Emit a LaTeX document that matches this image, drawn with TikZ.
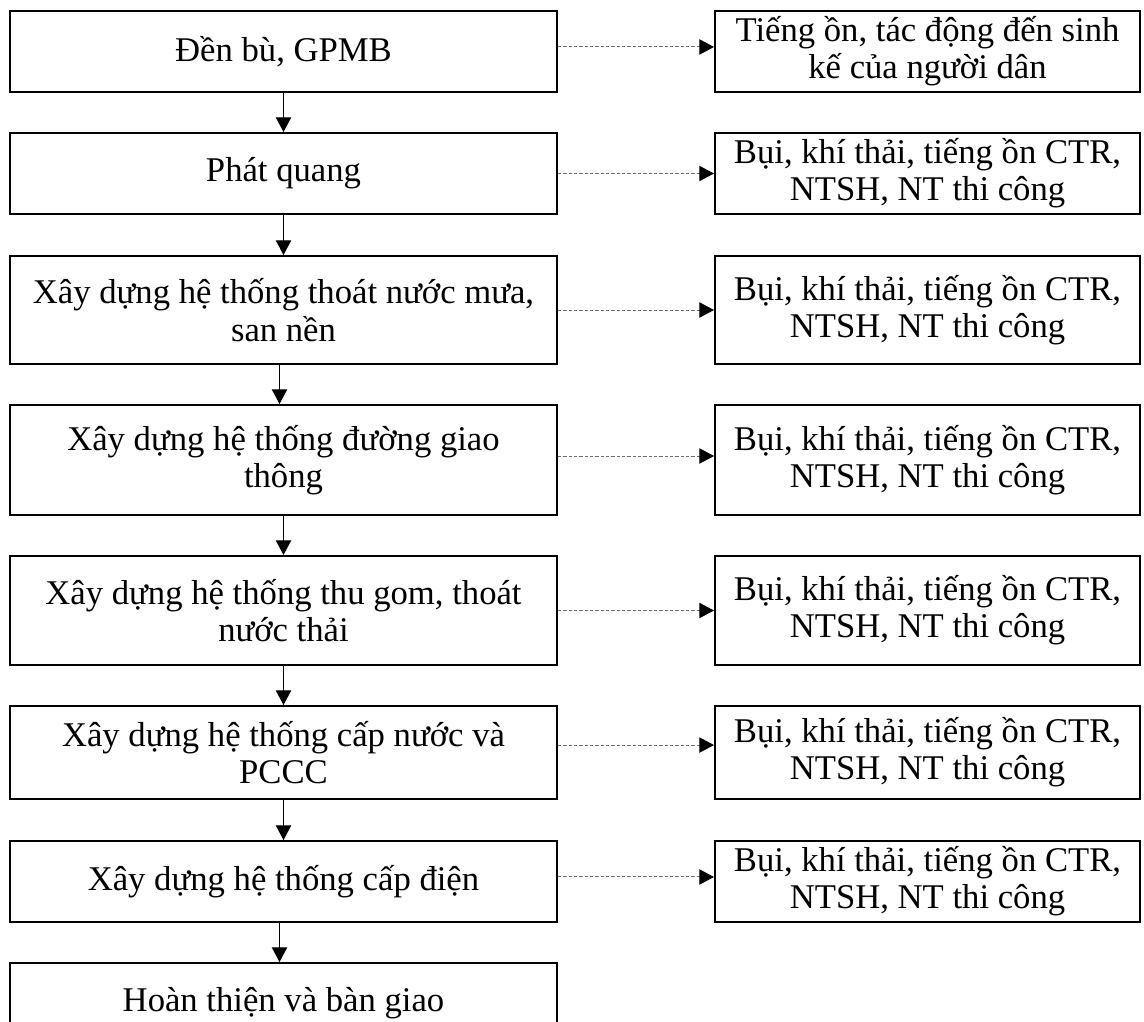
\documentclass[tikz,border=0pt]{standalone}
\usepackage{fontspec}
\setmainfont{Liberation Serif}
\usetikzlibrary{arrows.meta}

% one drawing unit = one pixel = 0.75pt
\tikzset{
  stagebox/.style={draw=black, line width=1.5pt, inner sep=0pt, align=center,
    minimum width=410.25pt, font=\fontsize{26}{28}\selectfont},
  impactbox/.style={draw=black, line width=1.5pt, inner sep=0pt, align=center,
    minimum width=318.75pt, font=\fontsize{26}{28}\selectfont},
  h81/.style={minimum height=60.75pt},
  h108/.style={minimum height=81pt},
  h110/.style={minimum height=82.5pt},
  h109/.style={minimum height=81.75pt},
  h93/.style={minimum height=69.75pt},
  flowarrow/.style={line width=0.75pt, -{Triangle[length=11pt,width=11.5pt]}},
  impactarrow/.style={draw=gray!85!black, line width=0.75pt,
    dash pattern=on 2.4pt off 1.6pt,
    -{Triangle[length=11pt,width=11.5pt,fill=black,color=black]}}
}

\begin{document}
\begin{tikzpicture}[x=0.75pt, y=-0.75pt]
  \useasboundingbox (0,0) rectangle (1144,1021);
  \fill[white] (0,0) rectangle (1144,1021);
  \clip (0,0) rectangle (1144,1021);

  % construction stages
  \node[stagebox, h81]  (s1) at (283.5,51.5)  {Đền bù, GPMB};
  \node[stagebox, h81]  (s2) at (283.5,173.5) {Phát quang};
  \node[stagebox, h108] (s3) at (283.5,310)   {Xây dựng hệ thống thoát nước mưa,\\san nền};
  \node[stagebox, h110] (s4) at (283.5,460)   {Xây dựng hệ thống đường giao\\thông};
  \node[stagebox, h109] (s5) at (283.5,610.5) {Xây dựng hệ thống thu gom, thoát\\nước thải};
  \node[stagebox, h93]  (s6) at (283.5,752.5) {Xây dựng hệ thống cấp nước và\\PCCC};
  \node[stagebox, h81]  (s7) at (283.5,881.5) {Xây dựng hệ thống cấp điện};
  \node[stagebox, h81]  (s8) at (283.5,1003.5) {Hoàn thiện và bàn giao};

  % environmental impacts
  \node[impactbox, h81]  (i1) at (927.5,51.5)  {Tiếng ồn, tác động đến sinh\\kế của người dân};
  \node[impactbox, h81]  (i2) at (927.5,173.5) {Bụi, khí thải, tiếng ồn CTR,\\NTSH, NT thi công};
  \node[impactbox, h108] (i3) at (927.5,310)   {Bụi, khí thải, tiếng ồn CTR,\\NTSH, NT thi công};
  \node[impactbox, h110] (i4) at (927.5,460)   {Bụi, khí thải, tiếng ồn CTR,\\NTSH, NT thi công};
  \node[impactbox, h109] (i5) at (927.5,610.5) {Bụi, khí thải, tiếng ồn CTR,\\NTSH, NT thi công};
  \node[impactbox, h93]  (i6) at (927.5,752.5) {Bụi, khí thải, tiếng ồn CTR,\\NTSH, NT thi công};
  \node[impactbox, h81]  (i7) at (927.5,881.5) {Bụi, khí thải, tiếng ồn CTR,\\NTSH, NT thi công};

  % sequence of stages
  \draw[flowarrow] (s1.south) -- (s2.north);
  \draw[flowarrow] (s2.south) -- (s3.north);
  \draw[flowarrow] ([xshift=-3pt]s3.south) -- ([xshift=-3pt]s4.north);
  \draw[flowarrow] (s4.south) -- (s5.north);
  \draw[flowarrow] (s5.south) -- (s6.north);
  \draw[flowarrow] (s6.south) -- (s7.north);
  \draw[flowarrow] ([xshift=-3pt]s7.south) -- ([xshift=-3pt]s8.north);

  % stage to impact links
  \draw[impactarrow] ([yshift=3.4pt]s1.east) -- ([yshift=3.4pt]i1.west);
  \draw[impactarrow] (s2.east) -- (i2.west);
  \draw[impactarrow] (s3.east) -- (i3.west);
  \draw[impactarrow] ([yshift=3pt]s4.east) -- ([yshift=3pt]i4.west);
  \draw[impactarrow] (s5.east) -- (i5.west);
  \draw[impactarrow] ([yshift=5.6pt]s6.east) -- ([yshift=5.6pt]i6.west);
  \draw[impactarrow] ([yshift=3.4pt]s7.east) -- ([yshift=3.4pt]i7.west);
\end{tikzpicture}
\end{document}
